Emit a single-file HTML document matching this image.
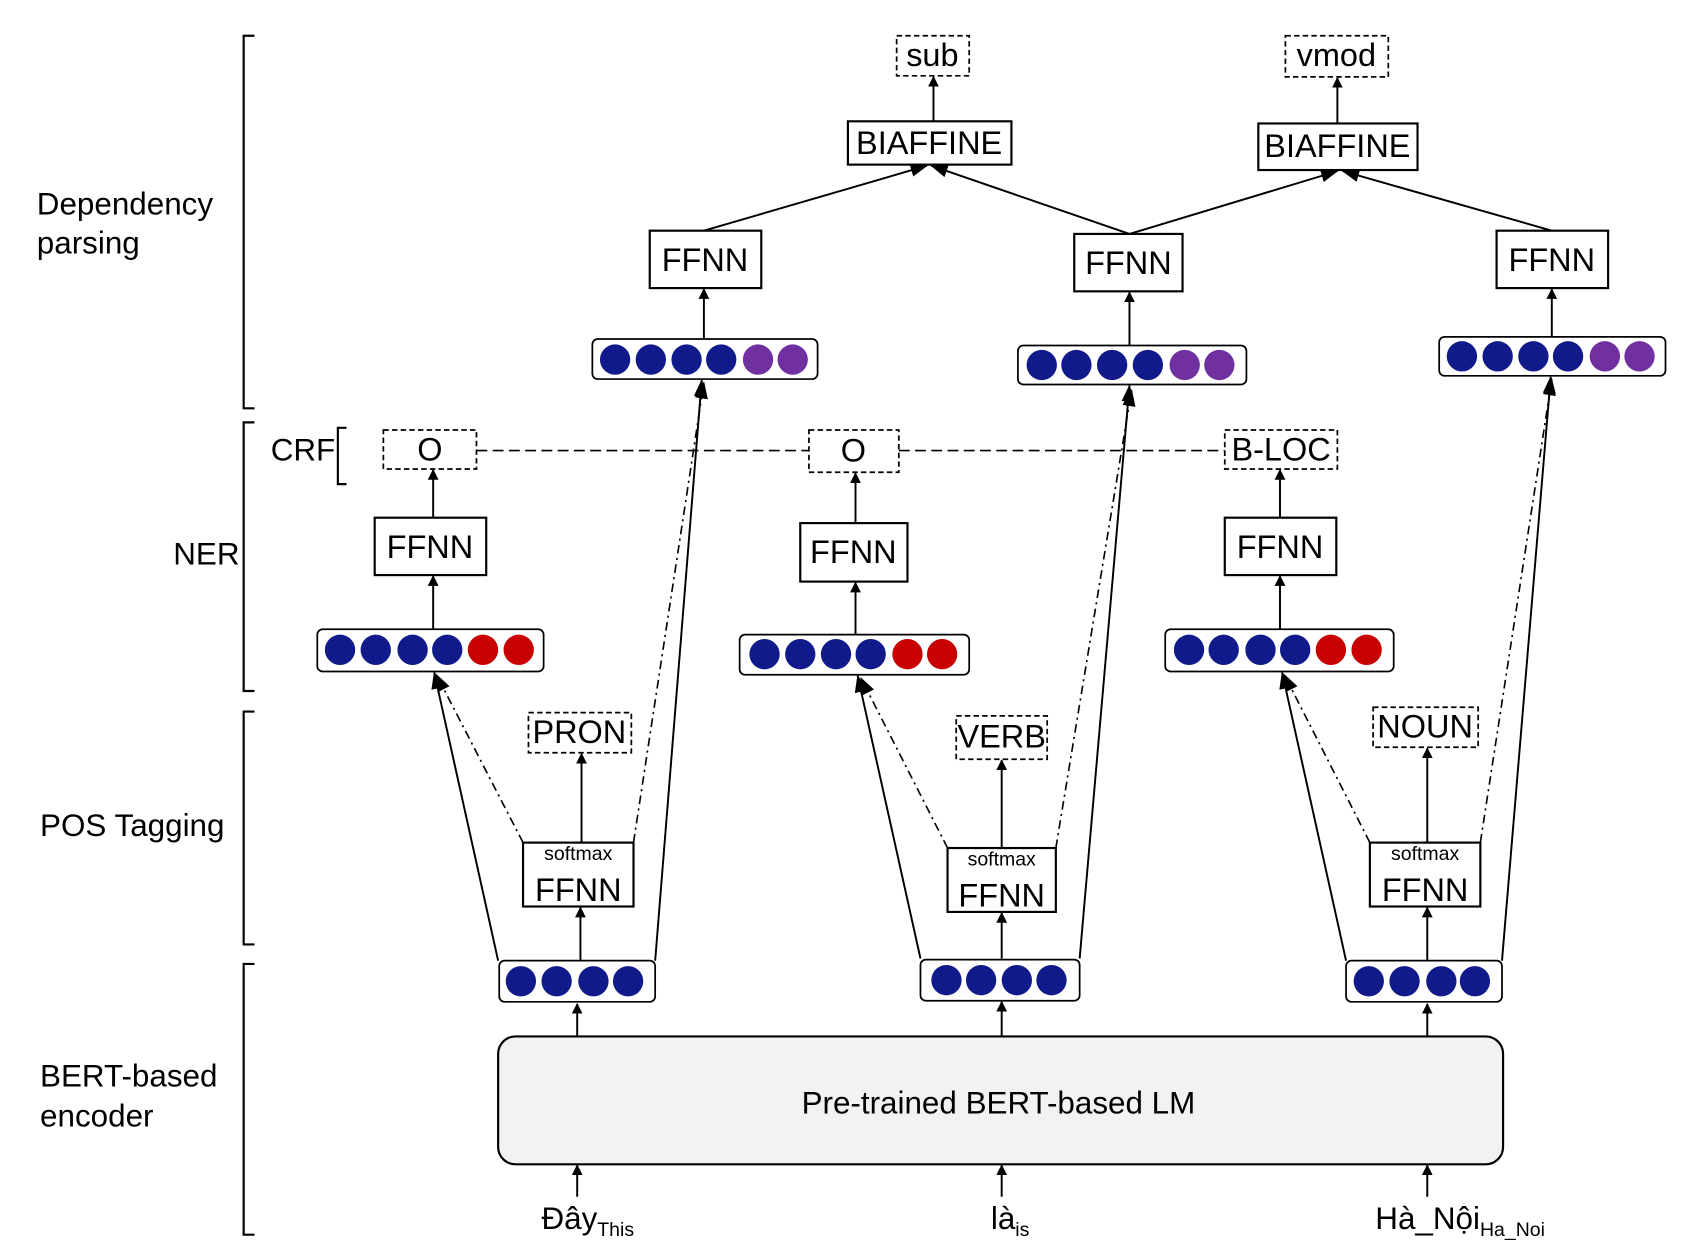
<!DOCTYPE html>
<html><head><meta charset="utf-8"><style>
html,body{margin:0;padding:0;background:#fff;}
svg{display:block}
text{font-family:"Liberation Sans",sans-serif;fill:#000}
</style></head><body>
<svg width="1698" height="1252" viewBox="0 0 1568 1156" preserveAspectRatio="none" xmlns="http://www.w3.org/2000/svg">
<defs>
<marker id="a" markerWidth="10" markerHeight="10" refX="9" refY="5" orient="auto" markerUnits="userSpaceOnUse"><path d="M0,0 L10,5 L0,10 z" fill="#000"/></marker>
<marker id="b" markerWidth="16" markerHeight="12" refX="15" refY="6" orient="auto" markerUnits="userSpaceOnUse"><path d="M0,0 L16,6 L0,12 z" fill="#000"/></marker>
</defs>
<g fill="none" stroke="#000" stroke-width="2">
<path d="M235,33 H225 V377 H235"/>
<path d="M235,390 H225 V638 H235"/>
<path d="M235,657 H225 V872 H235"/>
<path d="M235,890 H225 V1140 H235"/>
<path d="M320,395 H312 V447 H320"/>
</g>
<g font-size="29">
<text x="34" y="198">Dependency</text><text x="34" y="234">parsing</text>
<text x="160" y="521">NER</text>
<text x="37" y="772">POS Tagging</text>
<text x="37" y="1003">BERT-based</text><text x="37" y="1040">encoder</text>
<text x="250" y="425">CRF</text>
</g>
<rect x="460" y="957" width="928" height="118" rx="16" fill="#f2f2f2" stroke="#000" stroke-width="2"/>
<text x="922" y="1028" font-size="29" text-anchor="middle">Pre-trained BERT-based LM</text>
<g font-size="29"><text x="500" y="1135">Đây<tspan font-size="18" dy="6">This</tspan></text>
<text x="915" y="1135">là<tspan font-size="18" dy="6">is</tspan></text>
<text x="1270" y="1135">Hà_Nội<tspan font-size="18" dy="6">Ha_Noi</tspan></text></g>
<g stroke="#000" stroke-width="1.8" fill="none" marker-end="url(#a)">
<line x1="533" y1="1105" x2="533" y2="1076"/><line x1="925" y1="1105" x2="925" y2="1076"/><line x1="1318" y1="1105" x2="1318" y2="1076"/>
<line x1="533" y1="957" x2="533" y2="927"/><line x1="925" y1="957" x2="925" y2="925"/><line x1="1318" y1="957" x2="1318" y2="927"/>
<line x1="536" y1="887" x2="536" y2="838"/><line x1="925" y1="885" x2="925" y2="843"/><line x1="1318" y1="887" x2="1318" y2="838"/>
<line x1="537" y1="778" x2="537" y2="696"/><line x1="925" y1="783" x2="925" y2="702"/><line x1="1318" y1="778" x2="1318" y2="691"/>
<line x1="400" y1="581" x2="400" y2="532"/><line x1="790" y1="586" x2="790" y2="538"/><line x1="1182" y1="581" x2="1182" y2="532"/>
<line x1="400" y1="478" x2="400" y2="434"/><line x1="790" y1="483" x2="790" y2="437"/><line x1="1182" y1="478" x2="1182" y2="434"/>
<line x1="650" y1="313" x2="650" y2="267"/><line x1="1043" y1="319" x2="1043" y2="270"/><line x1="1433" y1="311" x2="1433" y2="267"/>
<line x1="862" y1="112" x2="862" y2="71"/><line x1="1235" y1="114" x2="1235" y2="72"/>
</g>
<g stroke="#000" stroke-width="1.8" fill="none" marker-end="url(#b)">
<line x1="460" y1="887" x2="401" y2="621"/><line x1="850" y1="885" x2="792" y2="624"/><line x1="1243" y1="887" x2="1184" y2="621"/>
<line x1="605" y1="887" x2="648" y2="351"/><line x1="997" y1="885" x2="1043" y2="356"/><line x1="1387" y1="887" x2="1432" y2="348"/>
<line x1="650" y1="213" x2="856" y2="153"/><line x1="1043" y1="216" x2="860" y2="153"/>
<line x1="1043" y1="216" x2="1235" y2="158"/><line x1="1433" y1="213" x2="1240" y2="158"/>
</g>
<g stroke="#000" stroke-width="1.5" fill="none" stroke-dasharray="8,4,2,4" marker-end="url(#b)">
<line x1="483" y1="778" x2="403" y2="623"/><line x1="875" y1="783" x2="795" y2="626"/><line x1="1265" y1="778" x2="1186" y2="623"/>
<line x1="585" y1="778" x2="650" y2="353"/><line x1="975" y1="783" x2="1045" y2="360"/><line x1="1367" y1="778" x2="1433" y2="350"/>
</g>
<g stroke="#000" stroke-width="1.5" stroke-dasharray="10,5"><line x1="440" y1="416" x2="747" y2="416"/><line x1="830" y1="416" x2="1131" y2="416"/></g>
<g fill="#fff" stroke="#000" stroke-width="2">
<rect x="483" y="778" width="102" height="59"/><rect x="875" y="783" width="100" height="59"/><rect x="1265" y="778" width="102" height="59"/>
<rect x="346" y="478" width="103" height="53"/><rect x="739" y="483" width="99" height="54"/><rect x="1131" y="478" width="103" height="53"/>
<rect x="600" y="213" width="103" height="53"/><rect x="992" y="216" width="100" height="53"/><rect x="1382" y="213" width="103" height="53"/>
<rect x="783" y="112" width="151" height="40"/><rect x="1162" y="114" width="147" height="43"/>
</g>
<g fill="#fff" stroke="#000" stroke-width="1.6" stroke-dasharray="5,3">
<rect x="488" y="658" width="95" height="37"/><rect x="883" y="661" width="84" height="40"/><rect x="1268" y="653" width="97" height="37"/>
<rect x="354" y="397" width="86" height="36"/><rect x="747" y="397" width="83" height="39"/><rect x="1131" y="397" width="104" height="36"/>
<rect x="828" y="33" width="67" height="37"/><rect x="1187" y="33" width="95" height="38"/>
</g>
<g font-size="18" text-anchor="middle"><text x="534" y="794">softmax</text><text x="925" y="799">softmax</text><text x="1316" y="794">softmax</text></g>
<g font-size="30" text-anchor="middle">
<text x="534" y="832">FFNN</text><text x="925" y="837">FFNN</text><text x="1316" y="832">FFNN</text>
<text x="397" y="515">FFNN</text><text x="788" y="520">FFNN</text><text x="1182" y="515">FFNN</text>
<text x="651" y="250">FFNN</text><text x="1042" y="253">FFNN</text><text x="1433" y="250">FFNN</text>
<text x="858" y="142">BIAFFINE</text><text x="1235" y="145">BIAFFINE</text>
<text x="535" y="686">PRON</text><text x="925" y="690">VERB</text><text x="1316" y="681">NOUN</text>
<text x="397" y="425">O</text><text x="788" y="426">O</text><text x="1183" y="425">B-LOC</text>
<text x="861" y="61">sub</text><text x="1234" y="61">vmod</text>
</g>
<g fill="#fff" stroke="#000" stroke-width="1.6">
<rect x="461" y="887" width="144" height="38" rx="5"/><rect x="850" y="886" width="147" height="38" rx="5"/><rect x="1243" y="887" width="144" height="38" rx="5"/>
<rect x="293" y="581" width="209" height="39" rx="5"/><rect x="683" y="586" width="212" height="37" rx="5"/><rect x="1076" y="581" width="211" height="39" rx="5"/>
<rect x="547" y="313" width="208" height="37" rx="5"/><rect x="940" y="319" width="211" height="36" rx="5"/><rect x="1329" y="311" width="209" height="36" rx="5"/>
</g>
<g fill="#111a8a">
<circle cx="481" cy="906" r="14"/><circle cx="514" cy="906" r="14"/><circle cx="548" cy="906" r="14"/><circle cx="580" cy="906" r="14"/>
<circle cx="874" cy="905" r="14"/><circle cx="906" cy="905" r="14"/><circle cx="939" cy="905" r="14"/><circle cx="971" cy="905" r="14"/>
<circle cx="1264" cy="906" r="14"/><circle cx="1297" cy="906" r="14"/><circle cx="1331" cy="906" r="14"/><circle cx="1362" cy="906" r="14"/>
<circle cx="314" cy="600" r="14"/><circle cx="347" cy="600" r="14"/><circle cx="381" cy="600" r="14"/><circle cx="413" cy="600" r="14"/>
<circle cx="706" cy="604" r="14"/><circle cx="739" cy="604" r="14"/><circle cx="772" cy="604" r="14"/><circle cx="804" cy="604" r="14"/>
<circle cx="1098" cy="600" r="14"/><circle cx="1130" cy="600" r="14"/><circle cx="1164" cy="600" r="14"/><circle cx="1196" cy="600" r="14"/>
<circle cx="568" cy="332" r="14"/><circle cx="601" cy="332" r="14"/><circle cx="634" cy="332" r="14"/><circle cx="666" cy="332" r="14"/>
<circle cx="962" cy="337" r="14"/><circle cx="994" cy="337" r="14"/><circle cx="1027" cy="337" r="14"/><circle cx="1060" cy="337" r="14"/>
<circle cx="1350" cy="329" r="14"/><circle cx="1383" cy="329" r="14"/><circle cx="1416" cy="329" r="14"/><circle cx="1448" cy="329" r="14"/>
</g>
<g fill="#c80000">
<circle cx="446" cy="600" r="14"/><circle cx="479" cy="600" r="14"/>
<circle cx="838" cy="604" r="14"/><circle cx="870" cy="604" r="14"/>
<circle cx="1229" cy="600" r="14"/><circle cx="1262" cy="600" r="14"/>
</g>
<g fill="#7030a0">
<circle cx="700" cy="332" r="14"/><circle cx="732" cy="332" r="14"/>
<circle cx="1094" cy="337" r="14"/><circle cx="1126" cy="337" r="14"/>
<circle cx="1482" cy="329" r="14"/><circle cx="1514" cy="329" r="14"/>
</g>
</svg>
</body></html>
